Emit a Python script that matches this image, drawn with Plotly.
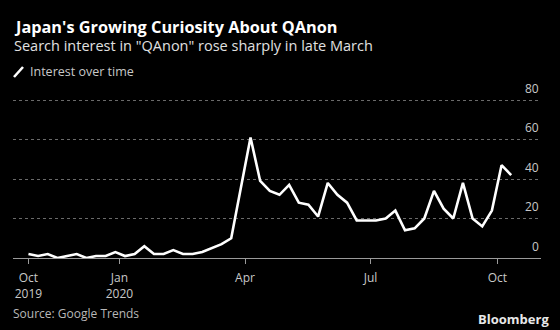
import plotly.graph_objects as go
import pandas as pd

# ---- data ----
start_date = "2019-10-27"
n_weeks = 51
interest = [2, 1, 2, 0, 1, 2, 0, 1, 1, 3, 1, 2, 6, 2, 2, 4, 2, 2, 3, 5,
            7, 10, 35, 61, 39, 34, 32, 37, 28, 27, 21, 38, 32, 28, 19, 19,
            19, 20, 24, 14, 15, 20, 34, 25, 20, 38, 20, 16, 24, 47, 42]
tick_dates = ["2019-10-27", "2020-01-01", "2020-04-01", "2020-07-01", "2020-10-01"]
tick_text = ["Oct<br>2019", "Jan<br>2020", "Apr", "Jul", "Oct"]
y_ticks = [0, 20, 40, 60, 80]

dates = pd.date_range(start_date, periods=n_weeks, freq="7D")

# ---- layout geometry ----
W, H = 560, 330
L, R, T, B = 13, 19, 95, 72
pw, ph = W - L - R, H - T - B
px_per_unit = 1.975
y_max = 80 + (100 - T) / px_per_unit


def px(x):
    return (x - L) / pw


def py(y):
    return (H - B - y) / ph


t0 = pd.Timestamp(start_date)
x_left = t0 - pd.Timedelta(days=11.2)
x_right = t0 + pd.Timedelta(days=371.6)

FONT = "Open Sans"

fig = go.Figure()
fig.add_trace(go.Scatter(
    x=dates, y=interest, mode="lines",
    line=dict(color="white", width=2.6),
    name="Interest over time", showlegend=False,
    hoverinfo="skip", cliponaxis=False,
))

fig.update_layout(
    width=W, height=H,
    margin=dict(l=L, r=R, t=T, b=B, pad=0),
    paper_bgcolor="black", plot_bgcolor="black",
    font=dict(family=FONT, color="#c8c8c8", size=12),
    xaxis=dict(
        type="date",
        range=[x_left, x_right],
        tickvals=pd.to_datetime(tick_dates), ticktext=tick_text,
        ticks="outside", ticklen=5, tickcolor="#9a9a9a", tickwidth=1,
        ticklabelstandoff=4,
        showline=True, linecolor="#9a9a9a", linewidth=1,
        showgrid=False, zeroline=False,
        tickfont=dict(size=12, color="#c8c8c8"),
        fixedrange=True,
    ),
    yaxis=dict(
        range=[0, y_max],
        tickvals=y_ticks,
        side="right", showticklabels=False,
        ticks="", showline=False,
        showgrid=True, gridcolor="#6a6a6a", griddash="dot", gridwidth=1,
        zeroline=False,
        fixedrange=True,
    ),
)

ann = []
for v in y_ticks:
    ann.append(dict(text=str(v), x=1, y=v, xref="paper", yref="y",
                    xanchor="right", yanchor="middle", yshift=12,
                    showarrow=False,
                    font=dict(size=12, color="#c8c8c8", family=FONT)))
ann.append(dict(text="<b>Japan's Growing Curiosity About QAnon</b>",
                x=px(12), y=py(27), xref="paper", yref="paper",
                xanchor="left", yanchor="middle", showarrow=False,
                font=dict(size=16.3, color="white", family=FONT)))
ann.append(dict(text='Search interest in "QAnon" rose sharply in late March',
                x=px(12), y=py(46), xref="paper", yref="paper",
                xanchor="left", yanchor="middle", showarrow=False,
                font=dict(size=14.5, color="#e0e0e0", family=FONT)))
ann.append(dict(text="Interest over time",
                x=px(28), y=py(72), xref="paper", yref="paper",
                xanchor="left", yanchor="middle", showarrow=False,
                font=dict(size=12.5, color="#c8c8c8", family=FONT)))
ann.append(dict(text="Source: Google Trends",
                x=px(11), y=py(313), xref="paper", yref="paper",
                xanchor="left", yanchor="middle", showarrow=False,
                font=dict(size=12, color="#b8b8b8", family=FONT)))
ann.append(dict(text="<b>Bloomberg</b>",
                x=px(551), y=py(319), xref="paper", yref="paper",
                xanchor="right", yanchor="middle", showarrow=False,
                font=dict(size=13, color="#e8e8e8", family=FONT)))
fig.update_layout(annotations=ann)

fig.add_shape(type="line", xref="paper", yref="paper",
              x0=px(14), y0=py(77), x1=px(23), y1=py(67),
              line=dict(color="white", width=2.6))

fig.write_html("out.html", config={"displayModeBar": False})
